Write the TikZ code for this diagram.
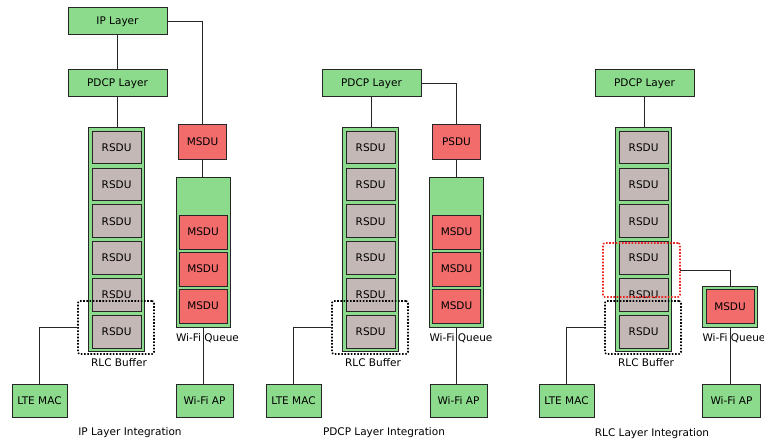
\documentclass[tikz,border=0pt]{standalone}
\usepackage{fontspec}
\setmainfont{DejaVu Sans}
\definecolor{lgreen}{RGB}{140,219,140}
\definecolor{lred}{RGB}{242,108,108}
\definecolor{rgray}{RGB}{196,184,182}
\definecolor{dred}{RGB}{235,35,35}
\begin{document}
\begin{tikzpicture}[x=1pt,y=-1pt,
  every node/.style={inner sep=0pt,outer sep=0pt,font=\fontsize{10.5}{12}\selectfont},
  box/.style={draw=black!85,line width=1pt},
  layer/.style={box,fill=lgreen,minimum width=99pt,minimum height=27pt},
  mac/.style={box,fill=lgreen,minimum width=55pt,minimum height=33pt},
  rsdu/.style={box,fill=rgray,minimum width=49pt,minimum height=32.5pt},
  msdu/.style={box,fill=lred,minimum width=48pt,minimum height=34pt},
  queue/.style={box,fill=lgreen,minimum width=54pt},
  buffer/.style={box,fill=lgreen,minimum width=56pt,minimum height=223pt},
  dotbox/.style={draw=black,line width=1.6pt,dash pattern=on 1.6pt off 1.6pt,rounded corners=2pt,minimum width=76pt,minimum height=53pt},
  reddotbox/.style={draw=dred,line width=1.6pt,dash pattern=on 1.6pt off 1.6pt,rounded corners=2pt,minimum width=77pt,minimum height=54pt},
  conn/.style={draw=black!85,line width=0.9pt},
  lbl/.style={}
]
\useasboundingbox (0,0) rectangle (764,444);

% ================= Panel 1: IP Layer Integration =================
\node[layer] (ip1) at (117.5,21.5) {IP Layer};
\node[layer] (pdcp1) at (117.5,83.5) {PDCP Layer};
\node[buffer] (buf1) at (116.5,239.5) {};
\node[rsdu] (r11) at (116.6,147.5) {RSDU};
\node[rsdu] (r12) at (116.6,184.3) {RSDU};
\node[rsdu] (r13) at (116.6,221.2) {RSDU};
\node[rsdu] (r14) at (116.6,258.1) {RSDU};
\node[rsdu] (r15) at (116.6,294.9) {RSDU};
\node[rsdu] (r16) at (116.6,331.8) {RSDU};
\node[dotbox] (dot1) at (116,327.5) {};
\node[lbl] (rlcl1) at (119,363) {RLC Buffer};
\node[mac] (lte1) at (39.5,400.5) {LTE MAC};
\node[msdu] (ms1) at (202.5,142) {MSDU};
\node[queue,minimum height=150pt] (wq1) at (203,252) {};
\node[msdu] (q11) at (203,232) {MSDU};
\node[msdu] (q12) at (203,269) {MSDU};
\node[msdu] (q13) at (203,306) {MSDU};
\node[mac,minimum width=57pt] (ap1) at (204.5,400.5) {Wi-Fi AP};
\node[lbl] (wql1) at (207.5,338) {Wi-Fi Queue};
\node[lbl] (cap1) at (130,433) {IP Layer Integration};

\draw[conn] (ip1.south) -- (pdcp1.north);
\draw[conn] (pdcp1.south) -- (pdcp1.south |- buf1.north);
\draw[conn] (lte1.north) |- (dot1.west);
\draw[conn] (ip1.east) -| (ms1.north);
\draw[conn] (ms1.south) -- (ms1.south |- wq1.north);
\draw[conn] (wq1.south) -- (wq1.south |- ap1.north);

% ================= Panel 2: PDCP Layer Integration =================
\node[layer] (pdcp2) at (371.5,83.5) {PDCP Layer};
\node[buffer] (buf2) at (370.5,239.5) {};
\node[rsdu] (r21) at (370.6,147.5) {RSDU};
\node[rsdu] (r22) at (370.6,184.3) {RSDU};
\node[rsdu] (r23) at (370.6,221.2) {RSDU};
\node[rsdu] (r24) at (370.6,258.1) {RSDU};
\node[rsdu] (r25) at (370.6,294.9) {RSDU};
\node[rsdu] (r26) at (370.6,331.8) {RSDU};
\node[dotbox] (dot2) at (370,327.5) {};
\node[lbl] (rlcl2) at (373,363) {RLC Buffer};
\node[mac] (lte2) at (293.5,400.5) {LTE MAC};
\node[msdu] (ps2) at (456.5,142) {PSDU};
\node[queue,minimum height=150pt] (wq2) at (456.5,252) {};
\node[msdu] (q21) at (456.5,232) {MSDU};
\node[msdu] (q22) at (456.5,269) {MSDU};
\node[msdu] (q23) at (456.5,306) {MSDU};
\node[mac,minimum width=57pt] (ap2) at (458.5,400.5) {Wi-Fi AP};
\node[lbl] (wql2) at (461,338) {Wi-Fi Queue};
\node[lbl] (cap2) at (384,433) {PDCP Layer Integration};

\draw[conn] (pdcp2.south) -- (pdcp2.south |- buf2.north);
\draw[conn] (lte2.north) |- (dot2.west);
\draw[conn] (pdcp2.east) -| (ps2.north);
\draw[conn] (ps2.south) -- (ps2.south |- wq2.north);
\draw[conn] (wq2.south) -- (wq2.south |- ap2.north);

% ================= Panel 3: RLC Layer Integration =================
\node[layer] (pdcp3) at (644.5,83.5) {PDCP Layer};
\node[buffer] (buf3) at (643.5,239.5) {};
\node[rsdu] (r31) at (643.6,147.5) {RSDU};
\node[rsdu] (r32) at (643.6,184.3) {RSDU};
\node[rsdu] (r33) at (643.6,221.2) {RSDU};
\node[rsdu] (r34) at (643.6,258.1) {RSDU};
\node[rsdu] (r35) at (643.6,294.9) {RSDU};
\node[rsdu] (r36) at (643.6,331.8) {RSDU};
\node[reddotbox] (red3) at (641.5,270) {};
\node[dotbox] (dot3) at (643,327.5) {};
\node[lbl] (rlcl3) at (646,363) {RLC Buffer};
\node[mac] (lte3) at (566.5,400.5) {LTE MAC};
\node[queue,minimum width=55pt,minimum height=41pt] (wq3) at (730,306.5) {};
\node[msdu] (q31) at (730,306.5) {MSDU};
\node[mac,minimum width=58pt] (ap3) at (731.5,400.5) {Wi-Fi AP};
\node[lbl] (wql3) at (734,338) {Wi-Fi Queue};
\node[lbl] (cap3) at (652,434) {RLC Layer Integration};

\draw[conn] (pdcp3.south) -- (pdcp3.south |- buf3.north);
\draw[conn] (lte3.north) |- (dot3.west);
\draw[conn] (red3.east) -| (wq3.north);
\draw[conn] (wq3.south) -- (wq3.south |- ap3.north);
\end{tikzpicture}
\end{document}
